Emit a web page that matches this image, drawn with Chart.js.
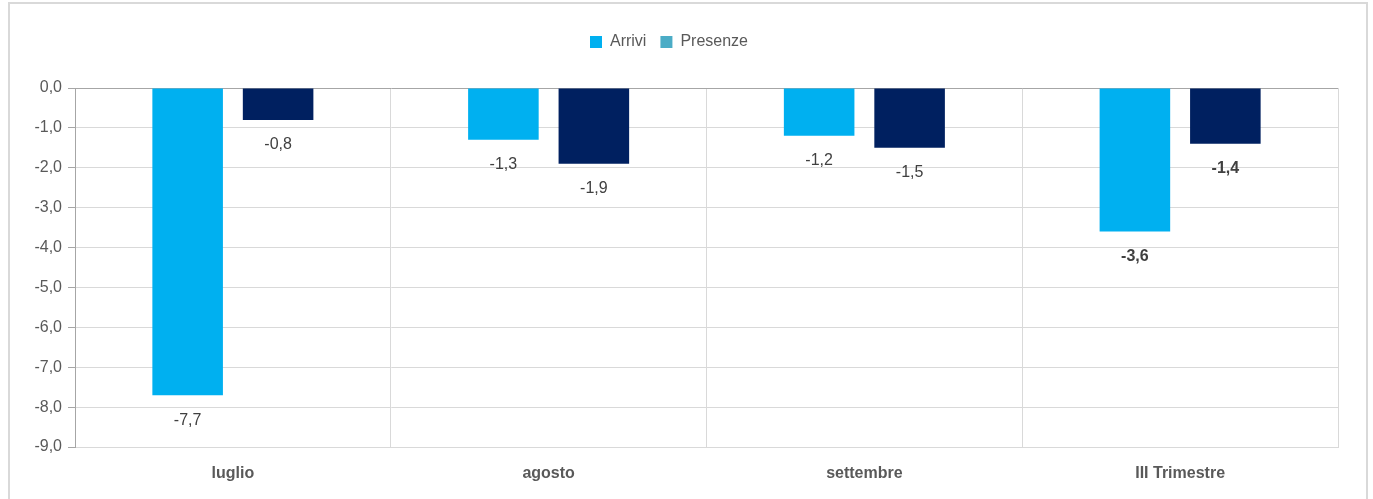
<!DOCTYPE html>
<html>
<head>
<meta charset="utf-8">
<script src="https://cdn.jsdelivr.net/npm/chart.js@4/dist/chart.umd.min.js"></script>
<style>
  html, body { margin: 0; padding: 0; background: #fff; }
  #wrap { width: 1373px; height: 499px; position: relative; }
</style>
</head>
<body>
<div id="wrap"><canvas id="chart" width="1373" height="499"></canvas></div>
<script>
// data
const categories = ['luglio', 'agosto', 'settembre', 'III Trimestre'];
const arrivi     = [-7.7, -1.3, -1.2, -3.6];
const presenze   = [-0.8, -1.9, -1.5, -1.4];
const yTicks     = [0, -1, -2, -3, -4, -5, -6, -7, -8, -9];

const FONT = "'Liberation Sans Narrow', 'Arial Narrow', 'Liberation Sans', Arial, sans-serif";
const fmt = v => v.toFixed(1).replace('.', ',');

// outer frame
const framePlugin = {
    id: 'frame',
    beforeDraw(chart) {
        const ctx = chart.ctx;
        ctx.save();
        ctx.strokeStyle = '#d9d9d9';
        ctx.lineWidth = 2;
        ctx.strokeRect(9, 3, 1358, 510);
        ctx.restore();
    }
};

// extra room under the legend
const legendGap = {
    id: 'legendGap',
    afterInit(chart) {
        const fit = chart.legend.fit;
        chart.legend.fit = function () {
            fit.call(this);
            this.height += 28;
        };
    }
};

// value labels under each bar
const valueLabels = {
    id: 'valueLabels',
    afterDatasetsDraw(chart) {
        const ctx = chart.ctx;
        ctx.save();
        ctx.textAlign = 'center';
        ctx.textBaseline = 'middle';
        ctx.fillStyle = '#404040';
        chart.data.datasets.forEach((ds, di) => {
            chart.getDatasetMeta(di).data.forEach((bar, i) => {
                const last = i === categories.length - 1;
                ctx.font = (last ? 'bold ' : '') + '16px ' + FONT;
                ctx.fillText(fmt(ds.data[i]), bar.x, bar.y + 25);
            });
        });
        ctx.restore();
    }
};

new Chart(document.getElementById('chart'), {
    type: 'bar',
    data: {
        labels: categories,
        datasets: [
            {
                label: 'Arrivi',
                data: arrivi,
                backgroundColor: '#00B0F0',
                legendColor: '#00B0F0'
            },
            {
                label: 'Presenze',
                data: presenze,
                backgroundColor: '#002060',
                legendColor: '#4BACC6'
            }
        ]
    },
    options: {
        responsive: false,
        animation: false,
        categoryPercentage: 0.573,
        barPercentage: 0.78,
        layout: { padding: { left: 0, right: 35, top: 20, bottom: 0 } },
        plugins: {
            tooltip: { enabled: false },
            legend: {
                position: 'top',
                labels: {
                    font: { family: FONT, size: 16 },
                    color: '#595959',
                    boxWidth: 12,
                    boxHeight: 12,
                    padding: 14,
                    generateLabels(chart) {
                        return chart.data.datasets.map((ds, i) => ({
                            text: ds.label,
                            fillStyle: ds.legendColor,
                            strokeStyle: ds.legendColor,
                            lineWidth: 0,
                            datasetIndex: i,
                            fontColor: '#595959'
                        }));
                    }
                }
            }
        },
        scales: {
            x: {
                grid: {
                    offset: true,
                    color: '#d9d9d9',
                    drawTicks: false
                },
                border: { color: '#d9d9d9' },
                ticks: {
                    padding: 17,
                    color: '#595959',
                    font: { family: FONT, size: 16, weight: 'bold' }
                },
                afterFit(scale) { scale.height = 52; }
            },
            y: {
                min: -9,
                max: 0,
                afterBuildTicks(scale) {
                    scale.ticks = yTicks.map(v => ({ value: v }));
                },
                grid: {
                    color: ctx => ctx.tick && ctx.tick.value === 0 ? '#a6a6a6' : '#d9d9d9',
                    tickColor: '#a6a6a6',
                    tickLength: 7
                },
                border: { color: '#a6a6a6' },
                ticks: {
                    padding: 6,
                    color: '#595959',
                    font: { family: FONT, size: 16 },
                    callback: v => fmt(v)
                },
                afterFit(scale) { scale.width = 75; }
            }
        }
    },
    plugins: [framePlugin, legendGap, valueLabels]
});
</script>
</body>
</html>
